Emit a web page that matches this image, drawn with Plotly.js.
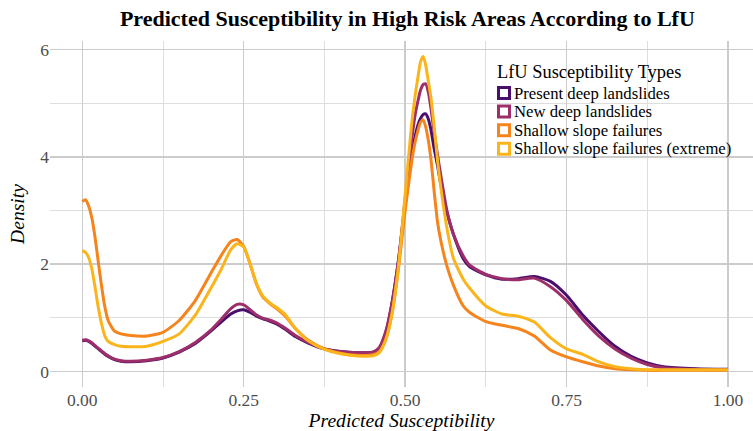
<!DOCTYPE html>
<html>
<head>
<meta charset="utf-8">
<script src="https://cdn.plot.ly/plotly-3.0.1.min.js"></script>
<style>html,body{margin:0;padding:0;background:#fff;}#chart{width:753px;height:431px;}</style>
</head>
<body>
<div id="chart"></div>
<script>
// Shared x grid (Predicted Susceptibility)
const xGrid = [0, 0.005, 0.01, 0.015, 0.02, 0.025, 0.03, 0.035, 0.04, 0.05, 0.06, 0.075, 0.1, 0.125, 0.15, 0.175, 0.2, 0.215, 0.23, 0.24, 0.25, 0.26, 0.27, 0.28, 0.29, 0.3, 0.315, 0.33, 0.35, 0.375, 0.4, 0.425, 0.45, 0.46, 0.47, 0.48, 0.49, 0.5, 0.51, 0.515, 0.52, 0.524, 0.528, 0.532, 0.536, 0.54, 0.545, 0.55, 0.555, 0.565, 0.575, 0.59, 0.6, 0.625, 0.65, 0.675, 0.7, 0.725, 0.75, 0.775, 0.8, 0.825, 0.85, 0.875, 0.9, 0.95, 1.0];

const seriesNames = ["Present deep landslides", "New deep landslides", "Shallow slope failures", "Shallow slope failures (extreme)"];
const seriesColors = ["#4a0f6c", "#9c2e69", "#f5841c", "#fbb51c"];
const legendTitle = "LfU Susceptibility Types";

const presentDeep = [0.57, 0.58, 0.56, 0.52, 0.47, 0.42, 0.37, 0.32, 0.28, 0.22, 0.19, 0.18, 0.20, 0.25, 0.36, 0.52, 0.76, 0.92, 1.07, 1.13, 1.15, 1.10, 1.03, 0.98, 0.94, 0.89, 0.78, 0.65, 0.53, 0.42, 0.37, 0.35, 0.36, 0.43, 0.72, 1.30, 2.10, 3.10, 4.00, 4.35, 4.60, 4.72, 4.79, 4.80, 4.70, 4.50, 4.15, 3.85, 3.50, 2.95, 2.55, 2.10, 1.95, 1.80, 1.72, 1.73, 1.77, 1.68, 1.42, 1.05, 0.74, 0.47, 0.28, 0.16, 0.09, 0.05, 0.04];

const newDeep = [0.58, 0.59, 0.57, 0.53, 0.48, 0.43, 0.38, 0.33, 0.29, 0.23, 0.20, 0.19, 0.21, 0.26, 0.37, 0.54, 0.78, 0.97, 1.17, 1.25, 1.24, 1.15, 1.05, 0.99, 0.96, 0.91, 0.80, 0.67, 0.54, 0.42, 0.37, 0.35, 0.36, 0.45, 0.75, 1.30, 2.10, 3.20, 4.30, 4.75, 5.05, 5.25, 5.35, 5.36, 5.20, 4.90, 4.45, 4.05, 3.67, 2.98, 2.55, 2.15, 1.98, 1.81, 1.73, 1.71, 1.74, 1.58, 1.32, 0.97, 0.66, 0.42, 0.25, 0.13, 0.07, 0.04, 0.03];

const shallow = [3.17, 3.20, 3.08, 2.85, 2.48, 2.02, 1.58, 1.20, 0.95, 0.75, 0.70, 0.67, 0.66, 0.73, 0.95, 1.32, 1.85, 2.16, 2.42, 2.46, 2.33, 2.00, 1.62, 1.38, 1.27, 1.18, 1.02, 0.80, 0.58, 0.42, 0.34, 0.30, 0.31, 0.37, 0.60, 1.10, 1.95, 3.00, 3.90, 4.25, 4.50, 4.65, 4.69, 4.55, 4.30, 3.95, 3.35, 2.80, 2.45, 1.95, 1.60, 1.22, 1.10, 0.93, 0.86, 0.80, 0.66, 0.40, 0.27, 0.18, 0.10, 0.05, 0.03, 0.02, 0.02, 0.02, 0.02];

const shallowExtreme = [2.25, 2.22, 2.12, 1.90, 1.55, 1.18, 0.88, 0.66, 0.56, 0.50, 0.47, 0.46, 0.47, 0.56, 0.70, 1.05, 1.57, 1.90, 2.27, 2.38, 2.32, 2.00, 1.63, 1.40, 1.28, 1.20, 1.05, 0.80, 0.57, 0.41, 0.33, 0.29, 0.29, 0.35, 0.58, 1.10, 2.00, 3.30, 4.60, 5.10, 5.50, 5.78, 5.87, 5.70, 5.40, 5.10, 4.55, 3.95, 3.45, 2.65, 2.10, 1.72, 1.55, 1.22, 1.07, 1.03, 0.92, 0.63, 0.42, 0.32, 0.18, 0.09, 0.05, 0.03, 0.03, 0.03, 0.03];

const xTickVals = [0, 0.25, 0.5, 0.75, 1.0];
const xTickText = ["0.00", "0.25", "0.50", "0.75", "1.00"];
const yTickVals = [0, 2, 4, 6];
const yTickText = ["0", "2", "4", "6"];

const allY = [presentDeep, newDeep, shallow, shallowExtreme];

const traces = allY.map((ys, i) => ({
  x: xGrid, y: ys, type: "scatter", mode: "lines", name: seriesNames[i],
  line: {color: seriesColors[i], width: 3, shape: "spline", smoothing: 0.6},
  showlegend: false, hoverinfo: "skip"
}));

// plot area in pixels (for placing the ggplot-style legend)
const M = {l: 50, r: 0, t: 41, b: 44};
const W = 753, H = 431;
const pw = W - M.l - M.r, ph = H - M.t - M.b;
const px2x = p => (p - M.l) / pw;
const px2y = p => (H - M.b - p) / ph;

const serif = "Liberation Serif";
const legendX = 497, legendTitleY = 72, legendItemY0 = 93, legendItemStep = 18.6;

const shapes = [];
const annotations = [{
  text: legendTitle, xref: "paper", yref: "paper",
  x: px2x(legendX - 1), y: px2y(legendTitleY), xanchor: "left", yanchor: "middle",
  showarrow: false, font: {family: serif, size: 18.4, color: "#000000"},
  borderpad: 0
}];
seriesNames.forEach((n, i) => {
  const cy = legendItemY0 + i * legendItemStep;
  shapes.push({
    type: "rect", xref: "paper", yref: "paper",
    x0: px2x(legendX + 1.5), x1: px2x(legendX + 12.5),
    y0: px2y(cy + 5.5), y1: px2y(cy - 5.5),
    line: {color: seriesColors[i], width: 3}, fillcolor: "rgba(255,255,255,0)", layer: "above"
  });
  annotations.push({
    text: n, xref: "paper", yref: "paper",
    x: px2x(legendX + 16), y: px2y(cy), xanchor: "left", yanchor: "middle",
    showarrow: false, font: {family: serif, size: 16.7, color: "#000000"},
    borderpad: 0
  });
});

const layout = {
  width: W, height: H,
  margin: {l: M.l, r: M.r, t: M.t, b: M.b, pad: 0},
  paper_bgcolor: "#ffffff", plot_bgcolor: "#ffffff",
  font: {family: serif, color: "#4d4d4d", size: 17},
  title: {text: "<b>Predicted Susceptibility in High Risk Areas According to LfU</b>",
          font: {family: serif, size: 22, color: "#000000"},
          x: 0.541, xref: "container", xanchor: "center", y: 0.958, yref: "container", yanchor: "middle"},
  xaxis: {
    range: [-0.05, 1.0387], tickvals: xTickVals, ticktext: xTickText,
    showgrid: true, gridcolor: "#cccccc", gridwidth: 1.5, zeroline: false, showline: false,
    ticks: "", tickfont: {family: serif, size: 17.5, color: "#4d4d4d"},
    minor: {tickvals: [0.125, 0.375, 0.625, 0.875], showgrid: true, gridcolor: "#dedede", gridwidth: 1},
    title: {text: "<i>Predicted Susceptibility</i>", font: {family: serif, size: 19.6, color: "#000000"}, standoff: 6}
  },
  yaxis: {
    range: [-0.29, 6.16], tickvals: yTickVals, ticktext: yTickText,
    showgrid: true, gridcolor: "#cccccc", gridwidth: 1.5, zeroline: false, showline: false,
    ticks: "", tickfont: {family: serif, size: 17.5, color: "#4d4d4d"},
    minor: {tickvals: [1, 3, 5], showgrid: true, gridcolor: "#dedede", gridwidth: 1},
    title: {text: "<i>Density</i>", font: {family: serif, size: 19.6, color: "#000000"}, standoff: 10}
  },
  shapes: shapes,
  annotations: annotations,
  showlegend: false
};

Plotly.newPlot("chart", traces, layout, {displayModeBar: false, staticPlot: true});
</script>
</body>
</html>
